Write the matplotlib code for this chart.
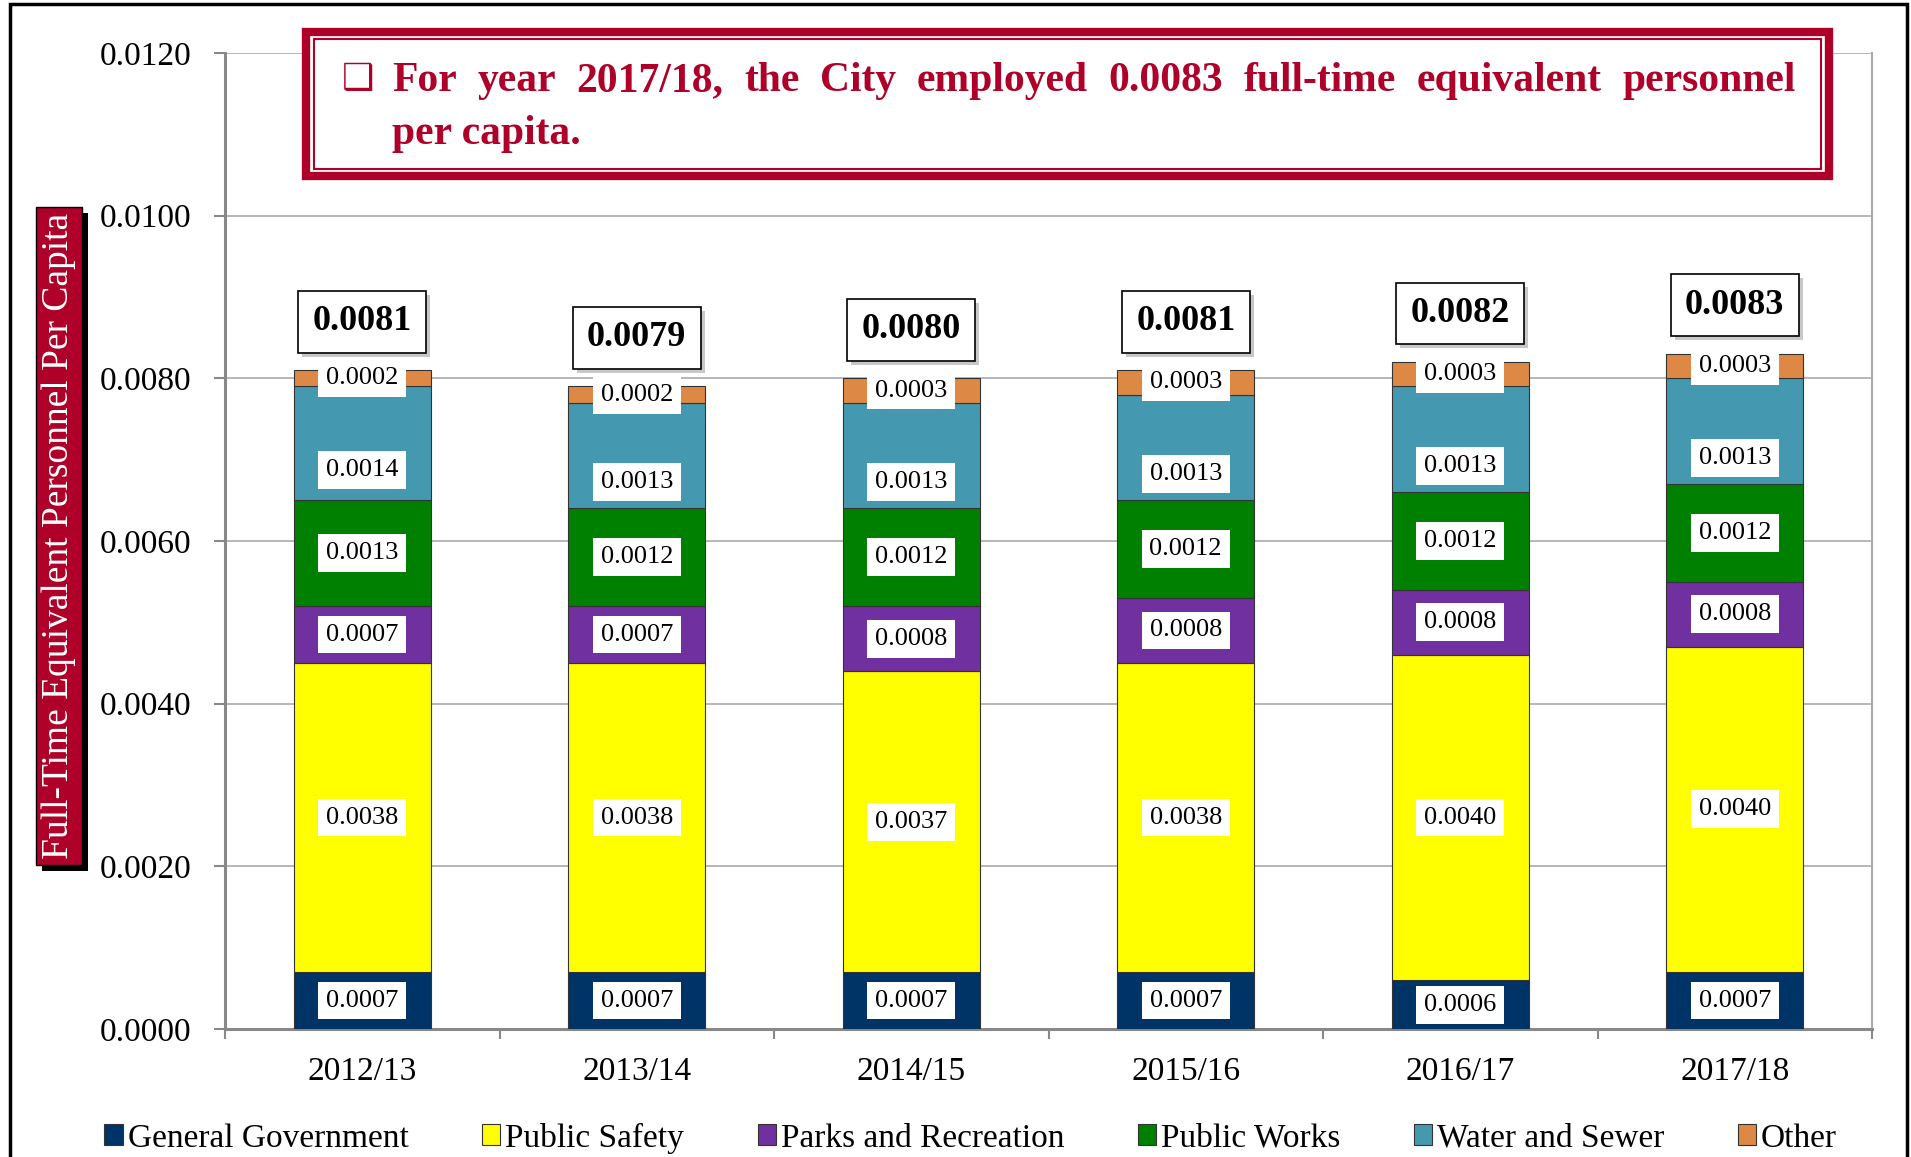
import matplotlib

matplotlib.use("Agg")
import matplotlib.pyplot as plt
import numpy as np
from matplotlib.patches import Rectangle
from matplotlib.ticker import FixedLocator, FormatStrFormatter
from matplotlib.transforms import IdentityTransform

years = ["2012/13", "2013/14", "2014/15", "2015/16", "2016/17", "2017/18"]
general_government = [0.0007, 0.0007, 0.0007, 0.0007, 0.0006, 0.0007]
public_safety = [0.0038, 0.0038, 0.0037, 0.0038, 0.0040, 0.0040]
parks_recreation = [0.0007, 0.0007, 0.0008, 0.0008, 0.0008, 0.0008]
public_works = [0.0013, 0.0012, 0.0012, 0.0012, 0.0012, 0.0012]
water_sewer = [0.0014, 0.0013, 0.0013, 0.0013, 0.0013, 0.0013]
other = [0.0002, 0.0002, 0.0003, 0.0003, 0.0003, 0.0003]
totals = [0.0081, 0.0079, 0.0080, 0.0081, 0.0082, 0.0083]

# name, values, colour, vertical nudge of the value label (points)
series = [
    ("General Government", general_government, "#003366", 0),
    ("Public Safety", public_safety, "#FFFF00", 0),
    ("Parks and Recreation", parks_recreation, "#7030A0", 0),
    ("Public Works", public_works, "#008000", 0),
    ("Water and Sewer", water_sewer, "#4499B0", -19),
    ("Other", other, "#DD8844", 0),
]

CRIMSON = "#AE0028"
plt.rcParams["font.family"] = ["Liberation Serif", "DejaVu Serif"]

W, H = 1911, 1157
fig = plt.figure(figsize=(W / 100, H / 100), dpi=100)
fig.patch.set_facecolor("white")
ax = fig.add_axes([225 / W, 1 - 1029 / H, (1872 - 225) / W, (1029 - 53) / H])

x = np.arange(len(years))
bottom = np.zeros(len(years))
for name, vals, color, nudge in series:
    vals = np.array(vals)
    ax.bar(x, vals, width=0.5, bottom=bottom, color=color, edgecolor="#333333",
           linewidth=0.8, label=name, zorder=3)
    for xi, b, v in zip(x, bottom, vals):
        ax.annotate(f"{v:.4f}", xy=(xi, b + v / 2), xytext=(0, nudge),
                    textcoords="offset points", ha="center", va="center", fontsize=19,
                    zorder=5, bbox=dict(boxstyle="square,pad=0.3", fc="white", ec="none"))
    bottom += vals

# totals above bars
total_texts = []
for xi, t in zip(x, totals):
    total_texts.append(ax.annotate(
        f"{t:.4f}", xy=(xi, t), xytext=(0, 35), textcoords="offset points",
        ha="center", va="center", fontsize=26, fontweight="bold", zorder=7,
        bbox=dict(boxstyle="square,pad=0.4", fc="white", ec="black", lw=1.2)))

ax.set_xlim(-0.5, len(years) - 0.5)
ax.set_ylim(0, 0.012)
ax.set_yticks(np.arange(0, 0.0121, 0.002))
ax.yaxis.set_major_formatter(FormatStrFormatter("%.4f"))
ax.set_xticks(x)
ax.set_xticklabels(years)
ax.xaxis.set_minor_locator(FixedLocator(np.arange(-0.5, len(years), 1.0)))
ax.tick_params(axis="x", which="major", length=0, pad=20, labelsize=24)
ax.tick_params(axis="x", which="minor", length=7, width=1.5, color="#888888")
ax.tick_params(axis="y", length=8, width=1.5, color="#888888", pad=16, labelsize=24)
ax.grid(axis="y", color="#aaaaaa", linewidth=1.2, zorder=0)
for side in ["left", "bottom"]:
    ax.spines[side].set_color("#888888")
    ax.spines[side].set_linewidth(2.2)
ax.spines["right"].set_color("#aaaaaa")
ax.spines["right"].set_linewidth(1.5)
ax.spines["top"].set_visible(False)

# y label in a crimson box
ylab = fig.text(59 / W, 1 - 536 / H, "Full-Time Equivalent Personnel Per Capita",
                rotation=90, ha="center", va="center", fontsize=27, color="white", zorder=5,
                bbox=dict(boxstyle="square,pad=0.15", fc=CRIMSON, ec="black", lw=1))

# callout box at the top
fig.add_artist(Rectangle((306 / W, 1 - 176 / H), (1829 - 306) / W, (176 - 32) / H,
                         transform=fig.transFigure, fc="white", ec=CRIMSON, lw=6, zorder=10))
fig.add_artist(Rectangle((314 / W, 1 - 169 / H), (1821 - 314) / W, (169 - 39) / H,
                         transform=fig.transFigure, fc="none", ec=CRIMSON, lw=1.5, zorder=11))
fig.text(358 / W, 1 - 79 / H, "\u2751", ha="center", va="center", fontsize=26,
         color=CRIMSON, family=["DejaVu Sans"], zorder=12)

line1 = "For year 2017/18, the City employed 0.0083 full-time equivalent personnel"
line2 = "per capita."
x0, x1 = 392, 1796
fig.canvas.draw()
renderer = fig.canvas.get_renderer()
words = line1.split()
pieces = [fig.text(0, 0, w, fontsize=30, fontweight="bold", color=CRIMSON, zorder=12)
          for w in words]
widths = [p.get_window_extent(renderer).width for p in pieces]
gap = (x1 - x0 - sum(widths)) / (len(words) - 1)
pos = x0
for p, w in zip(pieces, widths):
    p.set_position((pos / W, 1 - 81 / H))
    p.set_va("center")
    pos += w + gap
fig.text(x0 / W, 1 - 134 / H, line2, va="center", fontsize=30, fontweight="bold",
         color=CRIMSON, zorder=12)

# drop shadows behind the y label and the total boxes
fig.canvas.draw()
bb = ylab.get_bbox_patch().get_window_extent(renderer)
fig.add_artist(Rectangle((bb.x0 + 6, bb.y0 - 6), bb.width, bb.height,
                         transform=IdentityTransform(), fc="black", ec="none", zorder=4))
for t in total_texts:
    bb = t.get_bbox_patch().get_window_extent(renderer)
    ax.add_artist(Rectangle((bb.x0 + 4, bb.y0 - 4), bb.width, bb.height,
                            transform=IdentityTransform(), fc="#c8c8c8", ec="none",
                            zorder=6, clip_on=False))

handles, labels = ax.get_legend_handles_labels()
fig.legend(handles, labels, loc="center", bbox_to_anchor=(0.508, 1 - 1138 / H), ncol=6,
           frameon=False, fontsize=24, handlelength=0.55, handleheight=0.6,
           handletextpad=0.15, columnspacing=2.2)

# outer chart frame
fig.add_artist(Rectangle((10 / W, -0.05), (1907 - 10) / W, 1.05 - 4 / H,
                         transform=fig.transFigure, fc="none", ec="black", lw=2.5, zorder=20))

fig.savefig("out.png", dpi=100)
